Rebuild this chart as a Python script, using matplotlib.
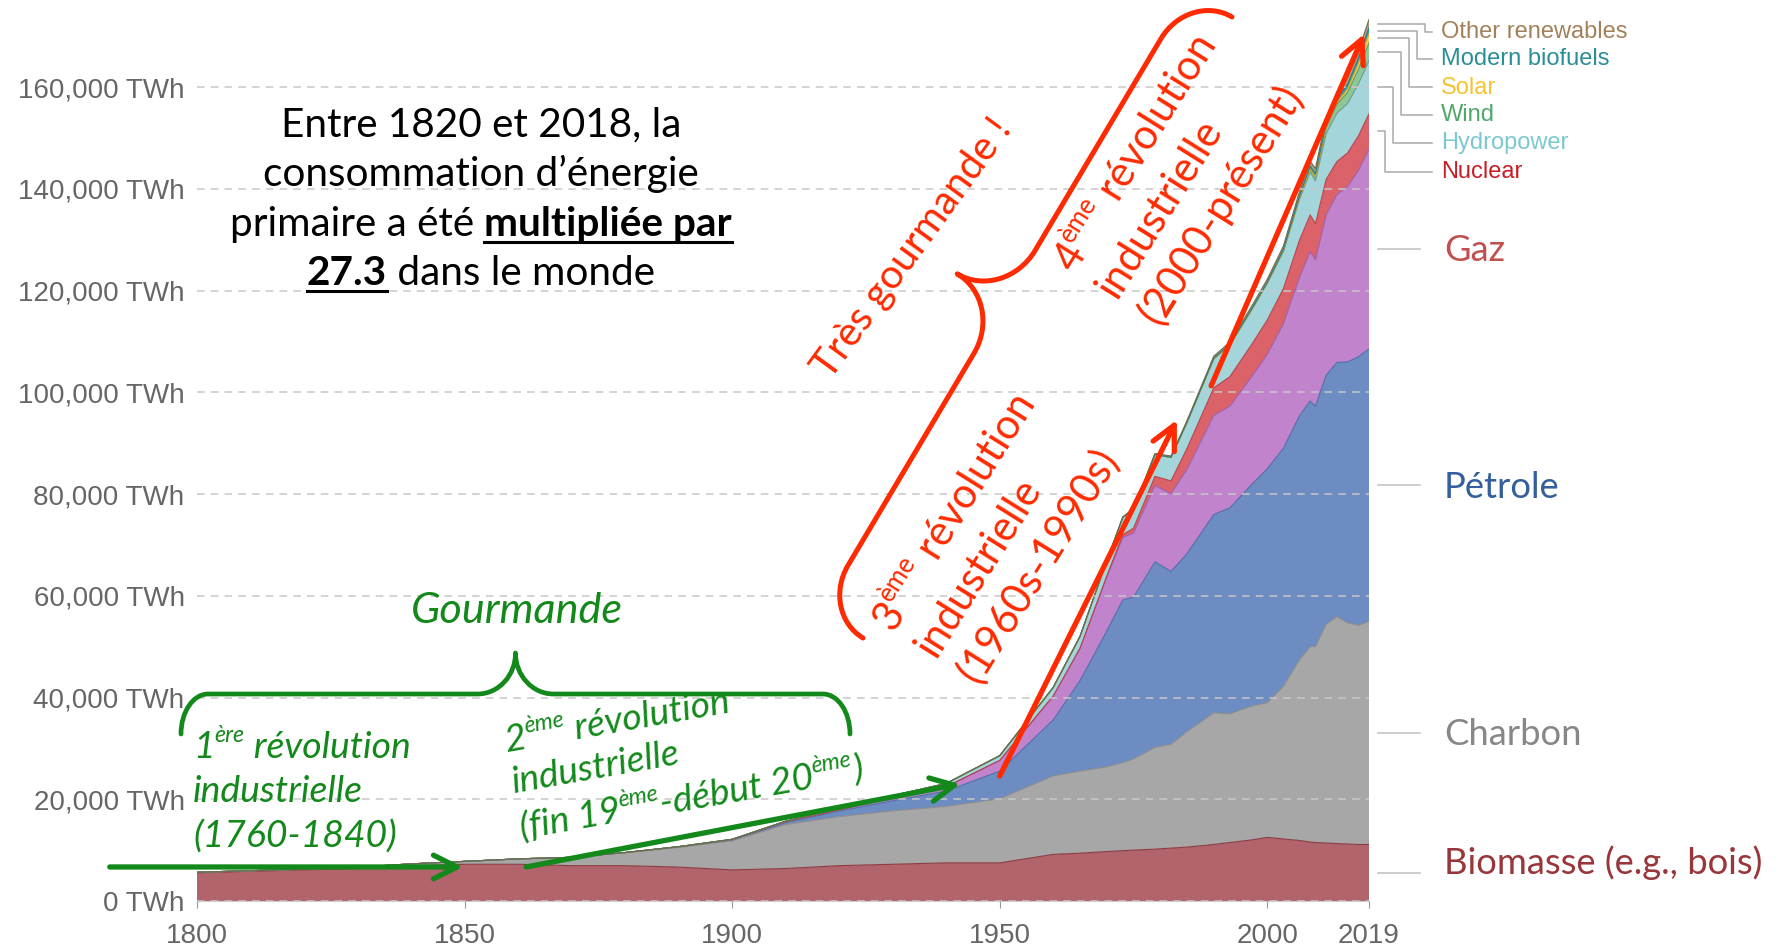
import matplotlib.pyplot as plt
import numpy as np
from matplotlib.path import Path
from matplotlib.patches import PathPatch
from matplotlib.lines import Line2D
from matplotlib.transforms import Affine2D

W, H = 1782, 948
PT = 100 / 72  # pixels per point

# ---- data (TWh, primary energy, world) ----
years = [1800, 1810, 1820, 1830, 1840, 1850, 1860, 1870, 1880, 1890,
         1900, 1910, 1920, 1930, 1940, 1950, 1960, 1965, 1970, 1973,
         1975, 1979, 1982, 1985, 1990, 1993, 1997, 2000, 2003, 2006,
         2008, 2009, 2011, 2013, 2015, 2017, 2019]
biomass = [5556, 5833, 6111, 6389, 6944, 7222, 7222, 6944, 6944, 6667,
           6111, 6389, 6944, 7222, 7500, 7500, 9167, 9400, 9722, 9900,
           10000, 10200, 10400, 10600, 11111, 11500, 12000, 12500, 12200, 11900,
           11600, 11500, 11400, 11300, 11200, 11100, 11111]
coal = [97, 128, 153, 264, 356, 569, 1061, 1642, 2542, 3856,
        5728, 8656, 9647, 10500, 11100, 12603, 15442, 16140, 16659, 17300,
        17937, 20000, 20400, 22700, 25890, 25300, 26300, 26500, 30000, 35500,
        38400, 38500, 43000, 44600, 43500, 43100, 43850]
oil = [0, 0, 0, 0, 0, 0, 0, 6, 44, 128,
       181, 369, 1097, 1972, 3000, 5444, 11000, 17800, 26700, 32000,
       31800, 36500, 34000, 35000, 39000, 40500, 43500, 46000, 46800, 48000,
       48300, 47300, 49000, 50000, 51300, 52800, 53600]
gas = [0, 0, 0, 0, 0, 0, 0, 0, 0, 33,
       64, 150, 233, 575, 875, 2092, 4700, 6300, 10600, 12300,
       12600, 15000, 15300, 16600, 19500, 20000, 21200, 22500, 24500, 27200,
       29400, 28800, 31500, 33000, 34500, 36600, 39300]
nuclear = [0] * 17 + [70, 210, 530, 980, 1800, 2500, 4100, 5400, 5800,
                      6300, 6750, 6900, 7300, 7200, 7100, 7000, 6500, 6600, 6800, 6920]
hydro = [0] * 10 + [50, 130, 250, 450, 650, 940, 1700, 2300, 3000, 3400,
                    3700, 4300, 4600, 5100, 5700, 6200, 6800, 7200, 7300, 8000,
                    8400, 8400, 9000, 9500, 9700, 10200, 10455]
wind = [0] * 24 + [10, 15, 30, 80, 170, 340, 580, 740, 1140, 1730, 2200, 2900, 3540]
solar = [0] * 27 + [3, 8, 15, 40, 55, 170, 370, 680, 1150, 1793]
biofuels = [0] * 22 + [40, 60, 120, 130, 150, 140, 190, 340, 590, 640, 720, 820, 930, 1000, 1143]
other_renew = [0] * 17 + [60, 100, 130, 150, 200, 250, 320, 400, 450, 520, 600,
                          700, 850, 950, 1000, 1130, 1260, 1400, 1500, 1614]

series = [biomass, coal, oil, gas, nuclear, hydro, wind, solar, biofuels, other_renew]
fill_colors = ['#b2646c', '#a6a7a6', '#6c8cc2', '#c083cc', '#da6268',
               '#a3d5da', '#8cc896', '#f5d060', '#3a9aa0', '#b59a7a']
edge_colors = ['#8c3b42', '#8d8d8d', '#4f6ea8', '#9c5fae', '#b8434b',
               '#6f9c8f', '#5f9a6a', '#c9a830', '#2b7c80', '#6f6a50']

big_names = ['Biomasse (e.g., bois)', 'Charbon', 'Pétrole', 'Gaz']
big_colors = ['#98363a', '#878787', '#33609c', '#c0504d']
small_names = ['Nuclear', 'Hydropower', 'Wind', 'Solar', 'Modern biofuels', 'Other renewables']
small_colors = ['#c81d25', '#7cc8d0', '#4fa86a', '#f5c431', '#2a8e95', '#a2815a']

GREEN = '#13891b'
RED = '#ff2a00'
GREY = '#666666'

fig = plt.figure(figsize=(W / 100, H / 100), dpi=100)
ax = fig.add_axes([197 / W, 1 - 901 / H, (1369 - 197) / W, (901 - 11) / H])
px = Affine2D().scale(1 / W, -1 / H).translate(0, 1) + fig.transFigure

ax.stackplot(years, *series, colors=fill_colors, linewidth=0)
cum = np.cumsum(np.array(series, dtype=float), axis=0)
for top, ec in zip(cum, edge_colors):
    ax.plot(years, top, color=ec, lw=0.8)

ax.set_xlim(1800, 2019)
ax.set_ylim(0, 175000)
ax.set_yticks(range(0, 160001, 20000))
ax.set_yticklabels([f'{v:,} TWh' for v in range(0, 160001, 20000)])
ax.set_xticks([1800, 1850, 1900, 1950, 2000, 2019])
ax.tick_params(axis='y', length=0, pad=9, labelsize=20, labelcolor=GREY)
ax.tick_params(axis='x', length=5, pad=11, labelsize=20, labelcolor=GREY, color='#999999')
for lab in ax.get_xticklabels() + ax.get_yticklabels():
    lab.set_family('Liberation Sans')
ax.grid(axis='y', color='#c8c8c8', lw=1.1, dashes=(5, 4))
ax.set_axisbelow(False)
for side in ['top', 'right', 'left']:
    ax.spines[side].set_visible(False)
ax.spines['bottom'].set_color('#cccccc')

renderer = fig.canvas.get_renderer()


def text_width(s, **kw):
    a = fig.text(0, 0, '|' + s + '|', **kw)
    b = fig.text(0, 0, '||', **kw)
    w = a.get_window_extent(renderer).width - b.get_window_extent(renderer).width
    a.remove()
    b.remove()
    return w


def fit_size(s, target, **kw):
    return 20 * target / text_width(s, fontsize=20, **kw)


def runs_width(runs, size, **kw):
    return sum(text_width(t, fontsize=size * sc, weight=wt, **kw) for t, sc, r, wt in runs)


def draw_runs(x, y, angle, runs, size, color, **kw):
    c, s = np.cos(np.radians(angle)), np.sin(np.radians(angle))
    adv = 0.0
    spans = []
    for txt, sc, rise, wt in runs:
        r = rise * size * PT
        fig.text(x + adv * c - r * s, y - adv * s - r * c, txt, transform=px,
                 color=color, fontsize=size * sc, weight=wt, rotation=angle,
                 rotation_mode='anchor', ha='left', va='baseline', **kw)
        w = text_width(txt, fontsize=size * sc, weight=wt, **kw)
        spans.append((adv, adv + w))
        adv += w
    return spans


def sup(t):
    return (t, 0.62, 0.42, 'normal')


def n(t, wt='normal'):
    return (t, 1.0, 0.0, wt)


def brace(p0, p1, depth, arm, r_end, r_tip, color, lw):
    p0, p1 = np.array(p0, float), np.array(p1, float)
    L = np.linalg.norm(p1 - p0)
    e = (p1 - p0) / L
    nv = np.array([e[1], -e[0]])
    k = 0.5523
    m = L / 2
    pts = [(0, 0),
           (0, arm * k), (r_end * (1 - k), arm), (r_end, arm),
           (m - r_tip, arm),
           (m - r_tip + k * r_tip, arm), (m, depth - k * (depth - arm)), (m, depth),
           (m, depth - k * (depth - arm)), (m + r_tip - k * r_tip, arm), (m + r_tip, arm),
           (L - r_end, arm),
           (L - r_end + k * r_end, arm), (L, arm * k), (L, 0)]
    codes = [Path.MOVETO, Path.CURVE4, Path.CURVE4, Path.CURVE4, Path.LINETO,
             Path.CURVE4, Path.CURVE4, Path.CURVE4, Path.CURVE4, Path.CURVE4, Path.CURVE4,
             Path.LINETO, Path.CURVE4, Path.CURVE4, Path.CURVE4]
    verts = [p0 + u * e + v * nv for u, v in pts]
    fig.add_artist(PathPatch(Path(verts, codes), transform=px, fill=False,
                             ec=color, lw=lw, capstyle='round', joinstyle='round'))


def arrow(x0, y0, x1, y1, color):
    ax.annotate('', xy=(x1, y1), xytext=(x0, y0), annotation_clip=False,
                arrowprops=dict(arrowstyle='->,head_length=1.7,head_width=0.85',
                                mutation_scale=10, color=color, lw=3.8,
                                shrinkA=0, shrinkB=0, capstyle='round',
                                joinstyle='round'))


# ---- right-side labels ----
last = np.array([sr[-1] for sr in series], dtype=float)
mids = cum[:, -1] - last / 2


def to_px(xv, yv):
    X, Y = ax.transData.transform((xv, yv))
    return X, H - Y


big_size = fit_size(big_names[0], 318, family='Lato')
for i, (name, col) in enumerate(zip(big_names, big_colors)):
    _, yp = to_px(2019, mids[i])
    fig.add_artist(Line2D([1378, 1420], [yp, yp], transform=px, color='#c4c4c4', lw=1.2))
    ty = yp - 11 if i == 0 else yp
    fig.text(1444, ty + 0.34 * big_size * PT, name, transform=px, color=col,
             fontsize=big_size, family='Lato', va='baseline', ha='left')

label_y = [171.6, 143.2, 114.8, 87.5, 59.1, 31.8]
elbow_x = [1385, 1393, 1401, 1409, 1417, 1425]
for j, (name, col) in enumerate(zip(small_names, small_colors)):
    _, yp = to_px(2019, mids[4 + j])
    fig.add_artist(Line2D([1378, elbow_x[j], elbow_x[j], 1432],
                          [yp, yp, label_y[j], label_y[j]], transform=px,
                          color='#aaaaaa', lw=1.1))
    fig.text(1441, label_y[j], name, transform=px, color=col, fontsize=17,
             family='Liberation Sans', va='center', ha='left')

# ---- headline text ----
hfont = dict(family='Lato')
hsize = fit_size('consommation d’énergie', 437, **hfont)
head_lines = [
    [n('Entre 1820 et 2018, la')],
    [n('consommation d’énergie')],
    [n('primaire a été '), n('multipliée par', 'bold')],
    [n('27.3', 'bold'), n(' dans le monde')],
]
for runs, yb in zip(head_lines, [136, 186, 236, 285]):
    wtot = runs_width(runs, hsize, **hfont)
    x0 = 481 - wtot / 2
    spans = draw_runs(x0, yb, 0, runs, hsize, 'black', **hfont)
    for (a, b), r in zip(spans, runs):
        if r[3] == 'bold':
            fig.add_artist(Line2D([x0 + a, x0 + b], [yb + 6, yb + 6], transform=px,
                                  color='black', lw=2.2))

# ---- green annotations ----
gfont = dict(family='Lato', style='italic')
gsize = fit_size('industrielle', 170, **gfont)
gour = fit_size('Gourmande', 212, **gfont)
fig.text(517, 623, 'Gourmande', transform=px, color=GREEN, fontsize=gour,
         ha='center', va='baseline', **gfont)
brace((181, 734), (850, 734), 81, 40, 27, 38, GREEN, 3.4)

first = [[n('1'), sup('ère'), n(' révolution')], [n('industrielle')], [n('(1760-1840)')]]
for runs, yb in zip(first, [758, 802, 848]):
    draw_runs(193, yb, 0, runs, gsize, GREEN, **gfont)

second = [[n('2'), sup('ème'), n(' révolution')], [n('industrielle')],
          [n('(fin 19'), sup('ème'), n('-début 20'), sup('ème'), n(')')]]
for runs, (xs, ys) in zip(second, [(507, 752), (514, 793), (522, 840)]):
    draw_runs(xs, ys, 10, runs, gsize, GREEN, **gfont)

arrow(1783.7, 6690, 1849.7, 6690, GREEN)
arrow(1861.5, 6690, 1942.6, 23000, GREEN)

# ---- red annotations ----
rfont = dict(family='Lato')
rsize = fit_size('industrielle', 203, **rfont)
tsize = fit_size('Très gourmande !', 312, **rfont)
draw_runs(830, 381, 54, [n('Très gourmande !')], tsize, RED, **rfont)
brace((863, 638), (1232, 17), 105, 50, 55, 60, RED, 3.6)

ang = 58
c58, s58 = np.sin(np.radians(ang)), np.cos(np.radians(ang))
third = [[n('3'), sup('ème'), n(' révolution')], [n('industrielle')], [n('(1960s-1990s)')]]
for i, runs in enumerate(third):
    draw_runs(893 + 50 * i * c58, 633 + 50 * i * s58, ang, runs, rsize, RED, **rfont)
fourth = [[n('4'), sup('ème'), n(' révolution')], [n('industrielle')], [n('(2000-présent)')]]
for i, runs in enumerate(fourth):
    draw_runs(1074 + 50 * i * c58, 274 + 50 * i * s58, ang, runs, rsize, RED, **rfont)

arrow(1950.0, 24580, 1983.1, 94600, RED)
arrow(1989.5, 101300, 2018.1, 170500, RED)

fig.savefig('out.png', dpi=100)
